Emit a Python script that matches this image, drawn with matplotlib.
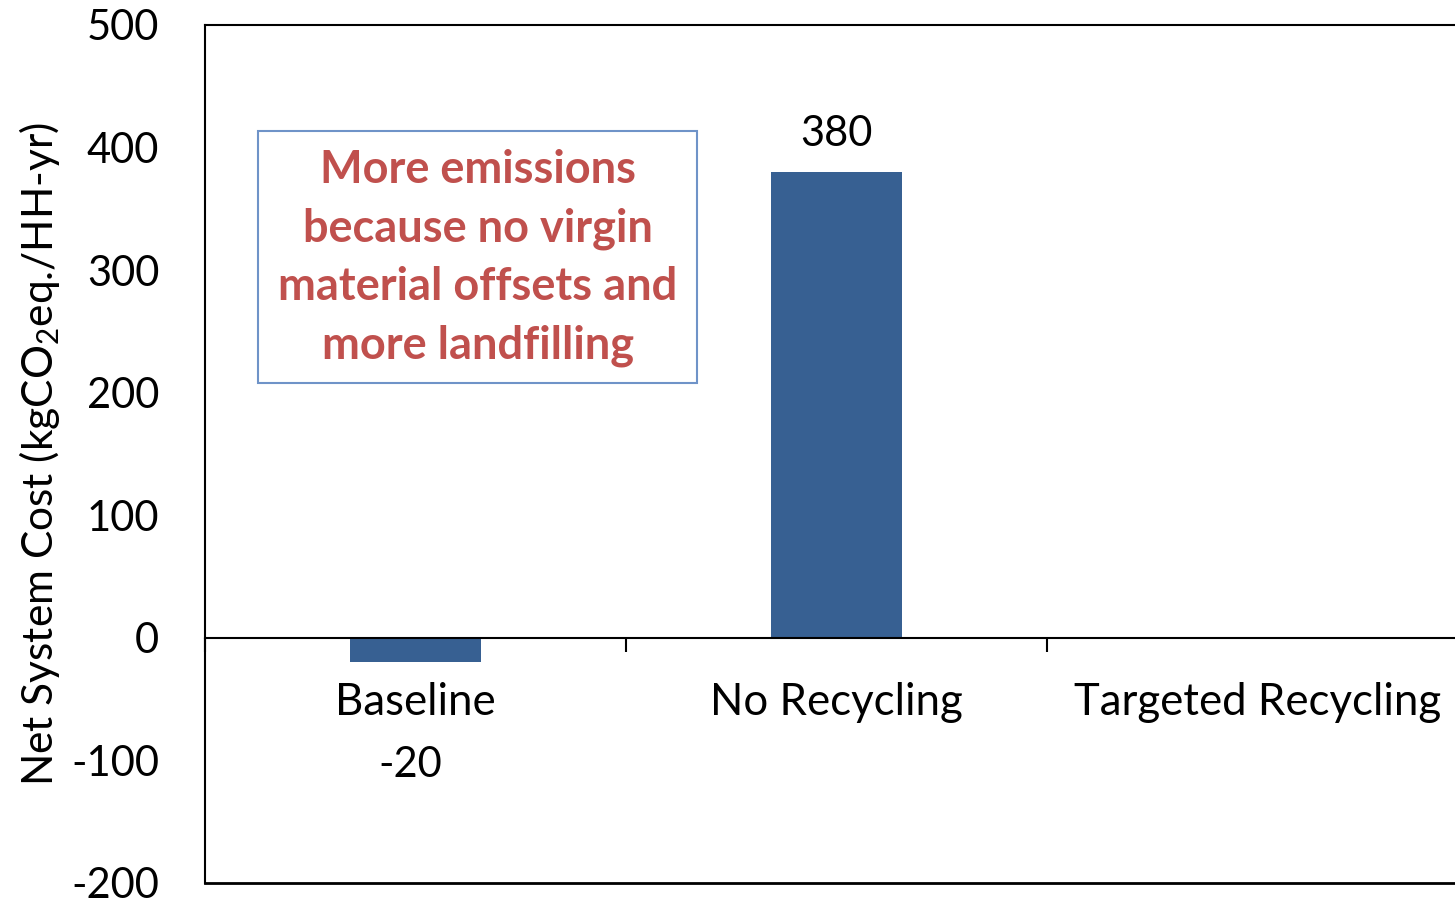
import matplotlib
matplotlib.use("Agg")
import matplotlib.pyplot as plt
import numpy as np

plt.rcParams['font.family'] = ['Lato', 'DejaVu Sans']
plt.rcParams['mathtext.fontset'] = 'custom'
plt.rcParams['mathtext.rm'] = 'Lato'
plt.rcParams['mathtext.it'] = 'Lato:italic'
plt.rcParams['mathtext.bf'] = 'Lato:bold'

categories = ["Baseline", "No Recycling", "Targeted Recycling"]
values = [-20, 380, np.nan]
yticks = [-200, -100, 0, 100, 200, 300, 400, 500]
note = "More emissions\nbecause no virgin\nmaterial offsets and\nmore landfilling"

bar_color = "#376092"
note_color = "#C0504D"

fig = plt.figure(figsize=(14.55, 8.99), dpi=100)
ax = fig.add_axes([205 / 1455, 16 / 899, 1263 / 1455, 858 / 899])

x = np.arange(len(categories))
ax.bar(x, values, width=0.31, color=bar_color, zorder=2)

ax.set_xlim(-0.5, len(categories) - 0.5)
ax.set_ylim(-200, 500)
ax.set_yticks(yticks)
ax.set_yticklabels([str(v) for v in yticks], fontsize=30)
ax.tick_params(axis='y', length=0, pad=33)

# category axis sits on the zero line, ticks at category boundaries
ax.spines['bottom'].set_position(('data', 0))
ax.spines['bottom'].set_linewidth(1.5)
ax.set_xticks(np.arange(len(categories) + 1) - 0.5)
ax.set_xticklabels([])
ax.tick_params(axis='x', which='major', direction='out', length=10, width=1.5)
ax.set_xticks(x, minor=True)
ax.set_xticklabels(categories, minor=True, fontsize=31.5)
ax.tick_params(axis='x', which='minor', length=0, pad=32)

ax.spines['right'].set_visible(False)
for s in ['left', 'top']:
    ax.spines[s].set_linewidth(1.5)
# outer frame bottom line at the axis minimum
ax.axhline(-200, color='black', lw=2, clip_on=False)

ax.set_ylabel(r'Net System Cost (kgCO$_2$eq./HH-yr)', fontsize=30.5)
ax.yaxis.set_label_coords(-0.113, 0.5)

# value labels
ax.annotate(f"{values[1]:g}", xy=(x[1], values[1]), xytext=(0, 14),
            textcoords='offset points', ha='center', va='bottom', fontsize=30)
ax.annotate(f"{values[0]:g}", xy=(x[0], values[0]), xytext=(-4, -74),
            textcoords='offset points', ha='center', va='center', fontsize=30)

# callout box
fig.patches.append(plt.Rectangle((258 / 1455, 1 - 383 / 899), (697 - 258) / 1455,
                                 (383 - 131) / 899, transform=fig.transFigure,
                                 fill=False, edgecolor='#6F93C8', lw=1.5))
fig.text(478 / 1455, 1 - 258 / 899, note, ha='center', va='center',
         fontsize=32.5, fontweight='bold', color=note_color, linespacing=1.48)

fig.savefig("out.png", dpi=100)
